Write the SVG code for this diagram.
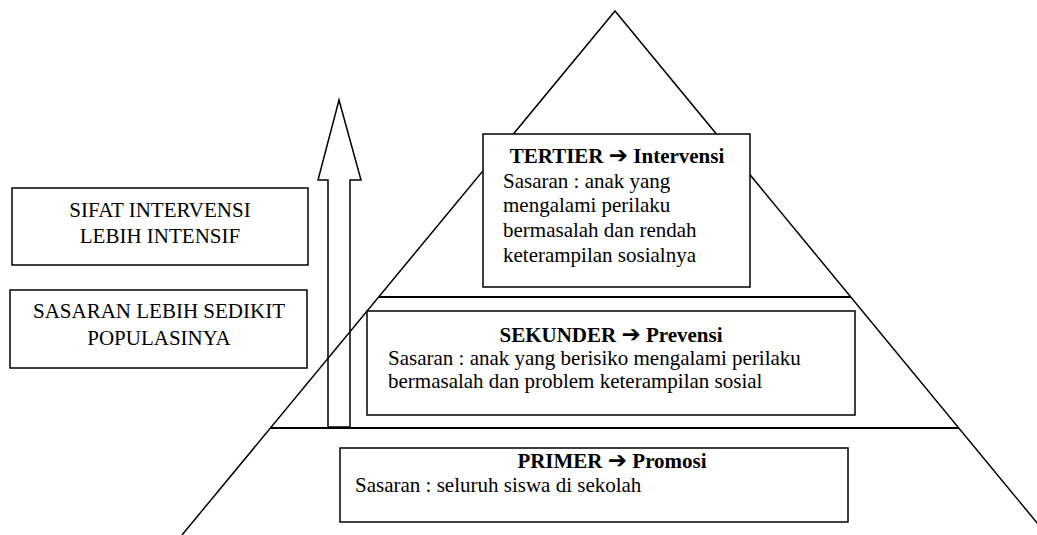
<svg xmlns="http://www.w3.org/2000/svg" width="1037" height="535" viewBox="0 0 1037 535">
<style>
.box{fill:#fff;stroke:#000;stroke-width:1.5}
.ln{fill:none;stroke:#000;stroke-width:1.5}
.hl{fill:none;stroke:#000;stroke-width:2.2}
.t{font-family:"Liberation Serif","Times New Roman",serif;font-size:21px;fill:#000}
.b{font-weight:bold}
.ar{font-family:"DejaVu Sans","Noto Sans",sans-serif;font-size:23px;font-weight:bold}
</style>
<rect width="1037" height="535" fill="#fff"/>
<g id="pyramid">
<polyline class="ln" points="182,535 615,11 1047,535"/>
</g>
<g id="connectors">
<line class="hl" x1="379" y1="297" x2="851" y2="297"/>
<line class="hl" x1="270" y1="428" x2="959" y2="428"/>
<polygon id="up-arrow" class="ln" fill="#fff" points="339,100 361,180 350,180 350,427 328,427 328,180 318,180"/>
</g>
<g id="box-sifat">
<rect class="box" x="12" y="188" width="296" height="77"/>
<text class="t" x="160" y="217" text-anchor="middle">SIFAT INTERVENSI</text>
<text class="t" x="160" y="243" text-anchor="middle">LEBIH INTENSIF</text>
</g>
<g id="box-sasaran">
<rect class="box" x="10" y="290" width="297" height="78"/>
<text class="t" x="159" y="318" text-anchor="middle">SASARAN LEBIH SEDIKIT</text>
<text class="t" x="159" y="345" text-anchor="middle">POPULASINYA</text>
</g>
<g id="tertier">
<rect class="box" x="483" y="134" width="267" height="153"/>
<text class="t b" x="617" y="163" text-anchor="middle">TERTIER <tspan class="ar">➔</tspan> Intervensi</text>
<text class="t" x="503" y="188">Sasaran : anak yang</text>
<text class="t" x="503" y="212">mengalami perilaku</text>
<text class="t" x="503" y="237">bermasalah dan rendah</text>
<text class="t" x="503" y="262">keterampilan sosialnya</text>
</g>
<g id="sekunder">
<rect class="box" x="367" y="311" width="488" height="104"/>
<text class="t b" x="611" y="342" text-anchor="middle">SEKUNDER <tspan class="ar">➔</tspan> Prevensi</text>
<text class="t" x="388" y="365">Sasaran : anak yang berisiko mengalami perilaku</text>
<text class="t" x="388" y="388">bermasalah dan problem keterampilan sosial</text>
</g>
<g id="primer">
<rect class="box" x="340" y="448" width="508" height="74"/>
<text class="t b" x="612" y="468" text-anchor="middle">PRIMER <tspan class="ar">➔</tspan> Promosi</text>
<text class="t" x="355" y="492">Sasaran : seluruh siswa di sekolah</text>
</g>
</svg>
